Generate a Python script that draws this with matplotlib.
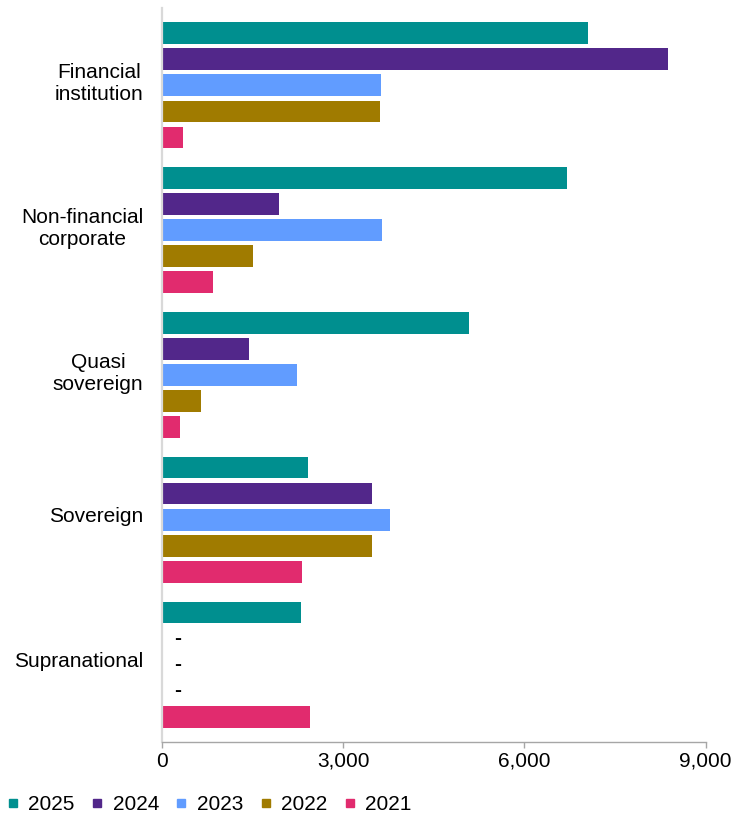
import numpy as np
import matplotlib
matplotlib.use("Agg")
import matplotlib.pyplot as plt
import matplotlib.transforms as mtransforms
from matplotlib.lines import Line2D

plt.rcParams['font.family'] = ['Liberation Sans', 'DejaVu Sans']

categories = ['Financial\ninstitution', 'Non-financial\ncorporate', 'Quasi\nsovereign',
              'Sovereign', 'Supranational']
years = ['2025', '2024', '2023', '2022', '2021']
vals_2025 = [7060, 6700, 5090, 2410, 2300]
vals_2024 = [8380, 1940, 1440, 3485, 0]
vals_2023 = [3620, 3645, 2230, 3780, 0]
vals_2022 = [3605, 1505, 645, 3485, 0]
vals_2021 = [350, 840, 300, 2325, 2455]
colors = ['#008F8F', '#52278A', '#619CFF', '#A07B00', '#E12B6E']

series = [vals_2025, vals_2024, vals_2023, vals_2022, vals_2021]

fig = plt.figure(figsize=(7.33, 8.14), dpi=100)
ax = fig.add_axes([0.221, 0.0885, 0.7415, 0.9018])

pitch = 0.18
height = 0.1485
y = np.arange(len(categories))
for i, (vals, c) in enumerate(zip(series, colors)):
    pos = y + (i - 2) * pitch
    ax.barh(pos, vals, height=height, color=c, edgecolor='none')
    # zero values get a dash label instead of a bar
    for p, v in zip(pos, vals):
        if v == 0:
            ax.annotate('-', xy=(0, p), xytext=(11, 0), textcoords='offset points',
                        ha='center', va='center', fontsize=15, fontweight='bold',
                        color='black')

ax.set_ylim(len(categories) - 1 + 0.534, -0.534)
ax.set_xlim(0, 9000)
ax.set_xticks([0, 3000, 6000, 9000])
ax.xaxis.set_major_formatter(matplotlib.ticker.FuncFormatter(lambda v, _: f'{v:,.0f}'))
ax.set_yticks(y)
ax.set_yticklabels(categories)

ax.tick_params(axis='y', length=0, pad=13.5, labelsize=15)
ax.tick_params(axis='x', length=4, width=1, color='#a6a6a6', pad=3, labelsize=15)

# nudge category labels up a little
shift = mtransforms.ScaledTranslation(0, 5 / 100, fig.dpi_scale_trans)
for lab in ax.get_yticklabels():
    lab.set_multialignment('center')
    lab.set_transform(lab.get_transform() + shift)

for s in ['top', 'right']:
    ax.spines[s].set_visible(False)
ax.spines['left'].set_color('#d9d9d9')
ax.spines['left'].set_linewidth(1.6)
ax.spines['bottom'].set_color('#a6a6a6')
ax.spines['bottom'].set_linewidth(1)

handles = [Line2D([], [], marker='s', linestyle='none', markersize=5.5,
                  markerfacecolor=c, markeredgecolor=c) for c in colors]
fig.legend(handles, years, loc='center left', bbox_to_anchor=(0.0102, 0.0115),
           ncol=5, frameon=False, fontsize=15, handlelength=0.5, handletextpad=0.5,
           columnspacing=0.82, borderpad=0, borderaxespad=0)

fig.savefig('out.png', dpi=100)
